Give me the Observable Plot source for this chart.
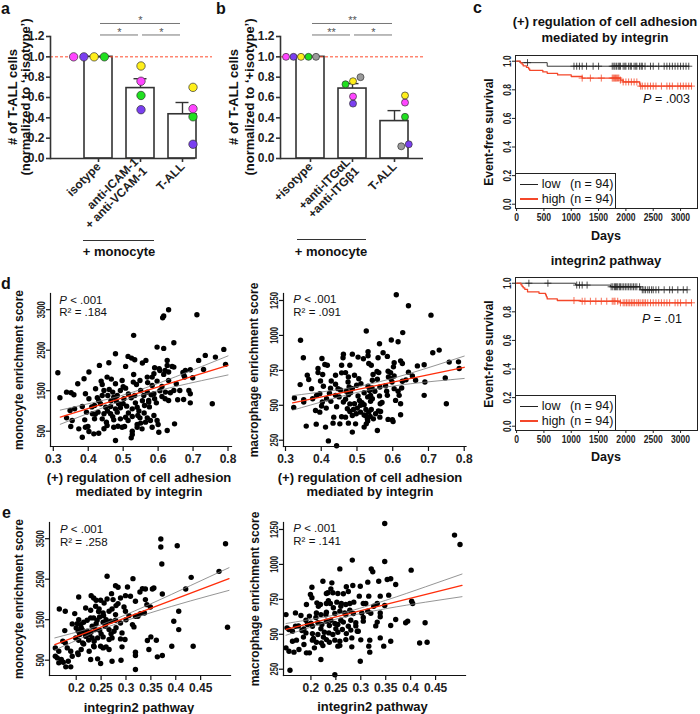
<!DOCTYPE html>
<html><head><meta charset="utf-8">
<script src="https://cdn.jsdelivr.net/npm/d3@7"></script>
<script src="https://cdn.jsdelivr.net/npm/@observablehq/plot@0.6"></script>
<style>
html,body{margin:0;padding:0;background:#fff;}
#fig{position:relative;width:700px;height:714px;overflow:hidden;font-family:"Liberation Sans",Arial,Helvetica,sans-serif;color:#111;}
.t{position:absolute;white-space:pre;line-height:1;}
.box{position:absolute;background:#fff;border:1px solid #222;box-sizing:border-box;}
</style></head><body><div id="fig"></div>
<script>
// ---------------- DATA ----------------
const donorColors = ["#ff45ff", "#7a3ff0", "#ffef1a", "#1fe01f", "#9a9a9a"];
const yTicksBar = [0, 0.2, 0.4, 0.6, 0.8, 1.0, 1.2];

const aCats = ["isotype", "anti-ICAM-1\n+ anti-VCAM-1", "T-ALL"];
const aIsotype = [1.0, 1.0, 1.0, 1.0];
const aAnti = [0.76, 0.48, 0.91, 0.62];
const aTall = [0.49, 0.14, 0.70, 0.41];
const aSig = [{from: 0, to: 2, level: 2, label: "*"}, {from: 0, to: 1, level: 1, label: "*"}, {from: 1, to: 2, level: 1, label: "*"}];

const bCats = ["+isotype", "+anti-ITGαL\n+anti-ITGβ1", "T-ALL"];
const bIsotype = [1.0, 1.0, 1.0, 1.0, 1.0];
const bAnti = [0.61, 0.54, 0.76, 0.73, 0.80];
const bTall = [0.55, 0.14, 0.62, 0.41, 0.12];
const bSig = [{from: 0, to: 2, level: 2, label: "**"}, {from: 0, to: 1, level: 1, label: "**"}, {from: 1, to: 2, level: 1, label: "*"}];

// Kaplan-Meier steps [days, survival]
const kmXTicks = [0, 500, 1000, 1500, 2000, 2500, 3000];
const kmYTicks = [0, 0.2, 0.4, 0.6, 0.8, 1.0];
const km1Low = [[0,1],[60,0.99],[560,0.965],[3150,0.965]];
const km1High = [[0,1],[70,0.989],[100,0.979],[120,0.968],[180,0.957],[220,0.946],[240,0.936],[480,0.925],[560,0.915],[750,0.904],[1000,0.893],[1200,0.882],[1900,0.868],[1950,0.855],[2250,0.84],[2260,0.826],[3200,0.826]];
const km1LowCens = [200,1050,1100,1150,1200,1280,1400,1500,1750,1780,1800,1830,1860,1880,1900,1950,1980,2000,2050,2080,2100,2150,2180,2200,2250,2280,2300,2350,2450,2500,2600,2700,2750,2800,2850,2900,2950,3000,3050,3100,3150];
const km1HighCens = [1200,1350,1550,1750,1770,1790,1810,1830,1850,1870,1900,1950,2000,2050,2100,2150,2200,2270,2300,2350,2400,2450,2500,2550,2650,2750,2800,2850,2950,3000,3050,3100,3150,3200];
const km2Low = [[0,1],[1080,0.987],[1720,0.975],[2270,0.954],[3120,0.954]];
const km2High = [[0,1],[80,0.989],[100,0.978],[120,0.968],[150,0.957],[200,0.94],[410,0.929],[530,0.918],[545,0.905],[560,0.89],[745,0.879],[1170,0.874],[1900,0.863],[3200,0.863]];
const km2LowCens = [225,573,1100,1150,1200,1290,1730,1760,1790,1810,1830,1850,1880,1900,1930,1960,1990,2020,2050,2080,2110,2140,2170,2200,2250,2300,2330,2360,2400,2430,2470,2500,2550,2600,2700,2800,2850,2950,3050,3120];
const km2HighCens = [1050,1200,1250,1350,1450,1550,1650,1750,1780,1800,1850,1900,1950,1980,2010,2040,2070,2100,2130,2160,2200,2230,2260,2300,2330,2360,2400,2450,2500,2550,2600,2650,2700,2750,2800,2900,2950,3000,3100,3200];

// scatter ticks
const dXTicks = [0.3, 0.4, 0.5, 0.6, 0.7, 0.8];
const eXTicks = [0.2, 0.25, 0.3, 0.35, 0.4, 0.45];
const monoTicks = [500, 1500, 2500, 3500];
const macroTicks = [250, 500, 750, 1000, 1250];

// d left: adhesion score vs monocyte
const dLeftPts = [[0.319,1324],[0.313,1943],[0.338,1464],[0.351,1448],[0.348,1011],[0.361,1052],[0.338,830],[0.354,764],[0.350,615],[0.373,558],[0.359,1399],[0.370,1671],[0.388,1794],[0.383,1110],[0.392,1423],[0.390,780],[0.392,599],[0.383,352],[0.395,970],[0.399,615],[0.402,1960],[0.402,1300],[0.402,492],[0.412,929],[0.418,1135],[0.418,805],[0.416,434],[0.421,1547],[0.426,1324],[0.428,970],[0.430,451],[0.432,2124],[0.435,1176],[0.437,1737],[0.440,1654],[0.440,805],[0.445,1506],[0.445,929],[0.450,1093],[0.452,723],[0.454,1836],[0.454,640],[0.456,1382],[0.459,2190],[0.460,1531],[0.464,1110],[0.464,929],[0.466,1786],[0.470,1465],[0.473,1341],[0.473,780],[0.473,599],[0.478,2413],[0.478,1671],[0.478,1052],[0.478,270],[0.483,1382],[0.483,970],[0.485,623],[0.492,1506],[0.492,1077],[0.492,805],[0.497,1753],[0.497,599],[0.502,1300],[0.504,615],[0.507,2100],[0.507,1563],[0.507,846],[0.510,1118],[0.514,2347],[0.514,764],[0.523,1324],[0.523,335],[0.524,2305],[0.526,1052],[0.526,863],[0.526,500],[0.526,418],[0.529,1712],[0.530,2866],[0.533,2264],[0.533,1382],[0.538,1654],[0.540,1093],[0.540,665],[0.540,599],[0.542,887],[0.548,1753],[0.548,830],[0.550,1506],[0.554,558],[0.555,2182],[0.559,1382],[0.561,1135],[0.564,723],[0.565,2248],[0.569,1836],[0.569,1465],[0.569,830],[0.573,1258],[0.573,1217],[0.578,764],[0.583,1836],[0.583,1629],[0.583,599],[0.588,1918],[0.588,1423],[0.588,887],[0.590,2066],[0.590,1300],[0.597,2577],[0.597,1737],[0.597,764],[0.600,665],[0.602,475],[0.603,2042],[0.611,1605],[0.611,1357],[0.613,3303],[0.616,3344],[0.616,2544],[0.616,1902],[0.621,1465],[0.626,2248],[0.626,2124],[0.626,516],[0.630,3500],[0.630,1960],[0.630,1753],[0.630,1258],[0.645,2685],[0.645,2083],[0.645,1506],[0.647,681],[0.652,1671],[0.656,1275],[0.662,1506],[0.671,1951],[0.673,1283],[0.674,1877],[0.676,1836],[0.678,2000],[0.688,1506],[0.692,2017],[0.692,1423],[0.692,1200],[0.699,1819],[0.711,3377],[0.716,2248],[0.730,2025],[0.735,2371],[0.755,1176],[0.764,2330],[0.788,2520],[0.793,2150],[0.465,1250],[0.487,1180],[0.515,1420],[0.535,1200],[0.545,1000],[0.555,1250],[0.560,950],[0.575,1100],[0.580,1400],[0.595,1200],[0.605,1500],[0.620,1300],[0.635,1450],[0.550,700],[0.515,950],[0.470,860],[0.445,560],[0.410,1100],[0.430,1250],[0.500,1180],[0.605,2000],[0.620,2000],[0.640,2100],[0.570,1700],[0.530,1900],[0.500,1600],[0.480,1250],[0.455,1000],[0.420,920],[0.440,1380]];
const dLeftFit = [[0.32,846],[0.80,2124]];
const dLeftUpper = [[0.32,1021],[0.42,1217],[0.52,1444],[0.65,1844],[0.80,2359]];
const dLeftLower = [[0.32,671],[0.42,1007],[0.52,1312],[0.65,1604],[0.80,1889]];

// d right: adhesion score vs macrophage
const dRightPts = [[0.610,1291],[0.644,1212],[0.707,1145],[0.526,1032],[0.342,965],[0.596,967],[0.615,955],[0.628,1020],[0.563,940],[0.730,895],[0.712,876],[0.350,840],[0.402,835],[0.462,866],[0.487,866],[0.461,840],[0.503,845],[0.531,883],[0.531,854],[0.518,833],[0.559,840],[0.573,876],[0.585,850],[0.410,792],[0.417,787],[0.391,763],[0.457,787],[0.480,787],[0.540,787],[0.533,799],[0.604,804],[0.627,799],[0.622,818],[0.669,782],[0.688,790],[0.784,811],[0.758,809],[0.391,734],[0.404,720],[0.361,715],[0.440,715],[0.457,732],[0.468,734],[0.476,703],[0.493,715],[0.556,742],[0.561,734],[0.587,744],[0.594,734],[0.602,775],[0.644,737],[0.786,763],[0.365,684],[0.398,674],[0.428,674],[0.475,667],[0.511,655],[0.543,679],[0.557,686],[0.588,703],[0.598,667],[0.604,710],[0.627,672],[0.637,682],[0.655,710],[0.664,679],[0.690,667],[0.747,696],[0.341,648],[0.373,619],[0.406,636],[0.426,622],[0.447,619],[0.454,610],[0.478,631],[0.487,619],[0.499,643],[0.531,636],[0.535,605],[0.542,624],[0.564,631],[0.583,600],[0.604,619],[0.615,600],[0.625,624],[0.387,571],[0.396,583],[0.423,586],[0.440,571],[0.476,576],[0.482,590],[0.503,567],[0.520,590],[0.538,571],[0.563,567],[0.585,571],[0.618,571],[0.688,571],[0.325,552],[0.351,540],[0.351,523],[0.376,547],[0.403,523],[0.415,547],[0.427,528],[0.462,523],[0.468,543],[0.493,511],[0.507,535],[0.514,519],[0.520,504],[0.538,528],[0.543,547],[0.565,511],[0.608,535],[0.622,511],[0.323,485],[0.401,495],[0.414,480],[0.384,463],[0.443,490],[0.473,475],[0.480,456],[0.501,480],[0.510,451],[0.525,470],[0.533,451],[0.540,470],[0.552,439],[0.566,456],[0.750,511],[0.396,451],[0.457,418],[0.435,415],[0.468,415],[0.487,427],[0.498,439],[0.524,427],[0.529,403],[0.537,420],[0.546,403],[0.564,415],[0.587,399],[0.622,432],[0.599,396],[0.386,365],[0.412,344],[0.433,372],[0.452,367],[0.476,372],[0.487,308],[0.496,367],[0.526,367],[0.530,387],[0.557,320],[0.601,384],[0.358,351],[0.420,245],[0.443,210],[0.520,344],[0.450,560],[0.470,600],[0.490,470],[0.510,500],[0.530,560],[0.550,600],[0.570,520],[0.505,690],[0.545,720],[0.560,460],[0.580,640],[0.440,650],[0.520,430],[0.480,510],[0.595,690]];
const dRightFit = [[0.32,517],[0.80,772]];
const dRightUpper = [[0.32,569],[0.42,602],[0.52,643],[0.65,730],[0.80,852]];
const dRightLower = [[0.32,465],[0.42,538],[0.52,603],[0.65,654],[0.80,692]];

// e left: integrin2 vs monocyte
const eLeftPts = [[0.370,3491],[0.370,3294],[0.403,3327],[0.500,3376],[0.372,2875],[0.262,2571],[0.431,2546],[0.487,2694],[0.314,2513],[0.279,2341],[0.284,2300],[0.303,2308],[0.328,2185],[0.333,2267],[0.339,2258],[0.353,2258],[0.356,2283],[0.373,2135],[0.299,2094],[0.271,2143],[0.289,2037],[0.205,2061],[0.230,2094],[0.235,2037],[0.240,1979],[0.249,1979],[0.256,1913],[0.262,2012],[0.274,1996],[0.280,1848],[0.284,1897],[0.296,1815],[0.309,2078],[0.319,1955],[0.339,1996],[0.342,1872],[0.349,1815],[0.420,2258],[0.166,1765],[0.178,1708],[0.197,1650],[0.219,1790],[0.229,1733],[0.239,1831],[0.246,1765],[0.254,1667],[0.266,1708],[0.272,1765],[0.279,1626],[0.299,1708],[0.306,1601],[0.319,1585],[0.329,1650],[0.337,1667],[0.406,1708],[0.192,1396],[0.202,1404],[0.209,1379],[0.215,1437],[0.222,1486],[0.229,1544],[0.235,1544],[0.242,1486],[0.247,1568],[0.254,1437],[0.260,1404],[0.269,1461],[0.279,1486],[0.289,1420],[0.313,1379],[0.316,1322],[0.324,1585],[0.396,1461],[0.177,1231],[0.200,1297],[0.204,1215],[0.207,1133],[0.212,1256],[0.215,1174],[0.222,1215],[0.227,1133],[0.232,1338],[0.239,1256],[0.247,1240],[0.258,1338],[0.266,1256],[0.276,1215],[0.292,1174],[0.406,1256],[0.504,1313],[0.173,968],[0.178,927],[0.199,1051],[0.205,993],[0.213,927],[0.219,1092],[0.232,1051],[0.236,968],[0.243,1051],[0.254,1075],[0.266,1010],[0.272,1051],[0.289,1026],[0.298,1010],[0.343,985],[0.350,1075],[0.361,993],[0.392,845],[0.435,845],[0.158,804],[0.165,722],[0.182,804],[0.189,722],[0.203,681],[0.210,763],[0.226,722],[0.236,829],[0.249,845],[0.254,804],[0.260,829],[0.266,763],[0.292,829],[0.319,697],[0.346,763],[0.373,615],[0.363,582],[0.158,599],[0.170,516],[0.174,451],[0.184,475],[0.192,599],[0.204,640],[0.229,516],[0.243,533],[0.249,418],[0.272,475],[0.290,500],[0.319,615],[0.165,434],[0.179,336],[0.189,336],[0.319,270],[0.162,557],[0.210,1300],[0.220,1100],[0.230,1200],[0.240,1400],[0.250,1150],[0.255,1600],[0.260,1500],[0.245,1700],[0.215,900],[0.225,1000],[0.235,850],[0.280,1300],[0.270,1150],[0.300,1500],[0.205,1500]];
const eLeftFit = [[0.157,886],[0.507,2513]];
const eLeftUpper = [[0.157,1050],[0.22,1259],[0.27,1471],[0.35,1893],[0.43,2345],[0.507,2784]];
const eLeftLower = [[0.157,750],[0.22,1099],[0.27,1351],[0.35,1673],[0.43,1965],[0.507,2224]];

// e right: integrin2 vs macrophage
const eRightPts = [[0.348,1293],[0.488,1210],[0.499,1143],[0.283,1031],[0.348,1021],[0.401,959],[0.258,968],[0.321,968],[0.324,947],[0.224,880],[0.242,868],[0.202,837],[0.271,840],[0.284,849],[0.299,844],[0.314,873],[0.336,880],[0.353,892],[0.360,897],[0.370,856],[0.240,825],[0.199,785],[0.202,761],[0.231,792],[0.234,797],[0.244,797],[0.254,792],[0.265,790],[0.275,806],[0.297,773],[0.316,773],[0.339,773],[0.356,780],[0.191,713],[0.212,725],[0.219,713],[0.231,720],[0.239,720],[0.252,730],[0.261,720],[0.270,713],[0.278,720],[0.286,730],[0.305,720],[0.326,701],[0.333,720],[0.348,706],[0.402,737],[0.404,720],[0.150,641],[0.169,653],[0.180,634],[0.197,630],[0.211,653],[0.220,641],[0.231,658],[0.248,649],[0.258,665],[0.268,653],[0.278,672],[0.285,649],[0.302,653],[0.314,665],[0.339,653],[0.152,546],[0.156,534],[0.169,558],[0.186,539],[0.193,570],[0.203,558],[0.214,582],[0.222,570],[0.231,594],[0.237,563],[0.248,577],[0.254,570],[0.265,587],[0.275,558],[0.290,582],[0.305,594],[0.333,587],[0.339,625],[0.360,563],[0.370,606],[0.390,582],[0.394,594],[0.429,582],[0.163,522],[0.182,527],[0.190,510],[0.203,505],[0.214,498],[0.227,515],[0.236,510],[0.244,498],[0.254,515],[0.263,534],[0.271,505],[0.293,522],[0.163,450],[0.171,458],[0.203,458],[0.211,443],[0.221,438],[0.231,462],[0.237,443],[0.248,458],[0.258,450],[0.270,462],[0.282,474],[0.318,458],[0.339,474],[0.360,450],[0.150,403],[0.156,379],[0.166,372],[0.176,391],[0.186,427],[0.191,367],[0.197,367],[0.207,403],[0.224,419],[0.258,419],[0.282,410],[0.316,415],[0.318,372],[0.346,415],[0.418,438],[0.433,443],[0.220,319],[0.299,307],[0.158,243],[0.248,210],[0.295,522],[0.254,415],[0.210,620],[0.220,540],[0.230,640],[0.240,600],[0.250,540],[0.260,600],[0.270,640],[0.280,600],[0.215,700],[0.245,690],[0.200,580],[0.185,480],[0.225,480],[0.260,700],[0.290,560],[0.305,620],[0.320,650],[0.310,720],[0.330,560],[0.280,530],[0.235,740],[0.190,600],[0.175,560],[0.205,470],[0.300,460]];
const eRightFit = [[0.15,535],[0.503,850]];
const eRightUpper = [[0.15,577],[0.22,619],[0.27,658],[0.35,743],[0.43,840],[0.503,931]];
const eRightLower = [[0.15,493],[0.22,575],[0.27,626],[0.35,683],[0.43,730],[0.503,769]];

// ---------------- RENDER ----------------
const FONT = '"Liberation Sans", Arial, Helvetica, sans-serif';
const fig = document.getElementById("fig");
const RED = "#ff2d0a", KMRED = "#f4472a", DASHRED = "#ff4b2b", INK = "#222";

function place(el, left, top) {
  el.style.position = "absolute"; el.style.left = left + "px"; el.style.top = top + "px";
  fig.appendChild(el); return el;
}
function T(html, x, y, o = {}) {
  const d = document.createElement("div");
  d.className = "t"; d.innerHTML = html;
  const ax = o.anchor === "start" ? "0" : o.anchor === "end" ? "-100%" : "-50%";
  d.style.left = x + "px"; d.style.top = y + "px";
  d.style.fontSize = (o.size ?? 12) + "px";
  d.style.fontWeight = o.weight ?? "bold";
  d.style.transform = `translate(${ax},-50%)` + (o.rotate ? ` rotate(${o.rotate}deg)` : "");
  fig.appendChild(d); return d;
}
function hline(x1, x2, y, color = "#333", w = 1) {
  const d = document.createElement("div");
  d.style.cssText = `position:absolute;left:${x1}px;top:${y}px;width:${x2 - x1}px;height:${w}px;background:${color};`;
  fig.appendChild(d);
}
function squeeze(svg, which, sx) {
  svg.querySelectorAll(`g[aria-label="${which}-axis tick label"] text`).forEach(t => {
    let tr = t.getAttribute("transform");
    if (!tr) {
      const x = +t.getAttribute("x") || 0, y = +t.getAttribute("y") || 0;
      tr = `translate(${x},${y})`; t.removeAttribute("x"); t.removeAttribute("y");
    }
    t.setAttribute("transform", tr + ` scale(${sx},1)`);
  });
}
const baseStyle = {fontFamily: FONT, fontWeight: "bold", overflow: "visible", background: "transparent", color: INK};

// ---- bar panels ----
function barPanel({cats, groups, sig, left, width, frameRight, xRange, axisInset, r, spacing}) {
  const H = 240, MT = 36, MB = 82;
  const pxPerUnit = (H - MT - MB) / 1.2;
  const summary = cats.map((c, i) => {
    const v = groups[i], m = d3.mean(v);
    return {cat: c, mean: m, top: m + d3.deviation(v) / Math.sqrt(v.length)};
  });
  // simple beeswarm: dots whose heights nearly coincide are laid side by side
  const pts = [];
  cats.forEach((c, i) => {
    const items = groups[i].map((v, j) => ({cat: c, v, j, color: donorColors[j]})).sort((a, b) => a.v - b.v);
    const clusters = [];
    let cur = [];
    for (const it of items) {
      if (cur.length && (it.v - cur[cur.length - 1].v) * pxPerUnit > 4.5) { clusters.push(cur); cur = []; }
      cur.push(it);
    }
    if (cur.length) clusters.push(cur);
    for (const cl of clusters) {
      cl.sort((a, b) => (a.v - b.v) || (a.j - b.j));
      cl.forEach((it, k) => { it.off = (k - (cl.length - 1) / 2) * spacing; pts.push(it); });
    }
  });
  const common = {width, height: H, marginTop: MT, marginBottom: MB, marginLeft: 50, marginRight: width - frameRight, style: baseStyle};
  const bracketY = d => d.level === 2 ? 1.328 : 1.215;
  const wide = sig.filter(d => d.to - d.from === 2), narrow = sig.filter(d => d.to - d.from === 1);
  const svg1 = Plot.plot({
    ...common,
    x: {domain: cats, range: xRange, padding: 1 / 3},
    y: {domain: [0, 1.2]},
    marks: [
      Plot.barY(summary, {x: "cat", y: "mean", fill: "white", stroke: "#333", strokeWidth: 1.6}),
      Plot.ruleX(summary, {x: "cat", y1: "mean", y2: "top", stroke: "#333", strokeWidth: 1.4}),
      Plot.tickY(summary, {x: "cat", y: "top", stroke: "#333", strokeWidth: 1.4, insetLeft: 7.5, insetRight: 7.5}),
      Plot.ruleY([1], {stroke: DASHRED, strokeWidth: 1, strokeDasharray: "3,2"}),
      Plot.ruleY([0], {stroke: "#333", strokeWidth: 1.6, insetRight: axisInset}),
      Plot.frame({anchor: "left", stroke: "#333", strokeWidth: 1.6}),
      Plot.axisY({ticks: yTicksBar, tickFormat: d3.format(".1f"), tickSize: 4, tickPadding: 2, fontSize: 12, stroke: "#333", strokeWidth: 1.6, label: null}),
      Plot.axisX({tickRotate: -45, tickSize: 4, tickPadding: 2, fontSize: 12, stroke: "#333", strokeWidth: 1.6, label: null, lineHeight: 1.05}),
      Plot.ruleY(sig, {x1: d => cats[d.from], x2: d => cats[d.to], y: bracketY, stroke: "#777", strokeWidth: 1, insetLeft: 16, insetRight: 16}),
      Plot.text(wide, {x: d => cats[d.from + 1], y: bracketY, text: "label", lineAnchor: "bottom", dy: 1, fontSize: 11, fontWeight: "normal", fill: "#555"}),
      Plot.text(narrow, {x: d => cats[d.from], y: bracketY, text: "label", lineAnchor: "bottom", dy: 1, dx: 21, fontSize: 11, fontWeight: "normal", fill: "#555"})
    ]
  });
  place(svg1, left, 0);
  const svg2 = Plot.plot({
    ...common,
    fx: {domain: cats, range: xRange, padding: 1 / 3, axis: null},
    x: {domain: [-14, 14], axis: null},
    y: {domain: [0, 1.2], axis: null},
    marks: [
      Plot.dot(pts, {fx: "cat", x: "off", y: "v", r, fill: "color", stroke: "#333", strokeWidth: 0.7})
    ]
  });
  place(svg2, left, 0);
}
barPanel({cats: aCats, groups: [aIsotype, aAnti, aTall], sig: aSig, left: 0, width: 222, frameRight: 212, xRange: [70, 210], axisInset: 17, r: 4.2, spacing: 8.2});
barPanel({cats: bCats, groups: [bIsotype, bAnti, bTall], sig: bSig, left: 230, width: 200, frameRight: 193, xRange: [52, 192], axisInset: 0, r: 3.5, spacing: 6});

// ---- Kaplan-Meier panels ----
function survAt(steps, t) { let s = steps[0][1]; for (const [tt, ss] of steps) if (tt <= t) s = ss; return s; }
function kmPanel({low, high, lowC, highC, top}) {
  const cens = (steps, times) => times.map(t => ({t, s: survAt(steps, t)}));
  const svg = Plot.plot({
    width: 240, height: 200, marginTop: 10, marginBottom: 37, marginLeft: 55, marginRight: 3,
    style: baseStyle,
    x: {domain: [-20, 3310]}, y: {domain: [-0.03, 1.04]},
    marks: [
      Plot.line(low, {x: d => d[0], y: d => d[1], curve: "step-after", stroke: INK, strokeWidth: 0.9}),
      Plot.line(high, {x: d => d[0], y: d => d[1], curve: "step-after", stroke: KMRED, strokeWidth: 1.3}),
      Plot.dot(cens(low, lowC), {x: "t", y: "s", symbol: "plus", r: 2.4, stroke: INK, strokeWidth: 0.8}),
      Plot.dot(cens(high, highC), {x: "t", y: "s", symbol: "plus", r: 2.4, stroke: KMRED, strokeWidth: 0.8}),
      Plot.frame({stroke: INK, strokeWidth: 1}),
      Plot.axisX({ticks: kmXTicks, tickFormat: d => String(d), tickSize: 3, tickPadding: 2, fontSize: 11, stroke: INK, label: null}),
      Plot.axisY({ticks: kmYTicks, tickFormat: d3.format(".1f"), tickRotate: -90, tickSize: 3, tickPadding: 2, fontSize: 10.5, stroke: INK, label: null})
    ]
  });
  squeeze(svg, "x", 0.78);
  squeeze(svg, "y", 0.8);
  place(svg, 460, top);
}
kmPanel({low: km1Low, high: km1High, lowC: km1LowCens, highC: km1HighCens, top: 45});
kmPanel({low: km2Low, high: km2High, lowC: km2LowCens, highC: km2HighCens, top: 267});

// ---- scatter panels ----
function scatter({pts, fit, up, lo, xd, yd, xt, yt, left, top, ml, mr}) {
  const X = d => d[0], Y = d => d[1];
  const svg = Plot.plot({
    width: 240, height: 190, marginTop: 8, marginBottom: 190 - 161, marginLeft: ml, marginRight: mr,
    style: baseStyle,
    x: {domain: xd}, y: {domain: yd},
    marks: [
      Plot.dot(pts, {x: X, y: Y, r: 2.7, fill: "#000"}),
      Plot.line(up, {x: X, y: Y, curve: "natural", stroke: "#7a7a7a", strokeWidth: 0.8}),
      Plot.line(lo, {x: X, y: Y, curve: "natural", stroke: "#7a7a7a", strokeWidth: 0.8}),
      Plot.line(fit, {x: X, y: Y, stroke: RED, strokeWidth: 1.3}),
      Plot.frame({anchor: "left", stroke: "#111", strokeWidth: 1.2}),
      Plot.frame({anchor: "bottom", stroke: "#111", strokeWidth: 1.2}),
      Plot.axisX({ticks: xt, tickFormat: d => String(d), tickSize: 5, tickPadding: 3, fontSize: 12, stroke: "#111", strokeWidth: 1.2, label: null}),
      Plot.axisY({ticks: yt, tickFormat: d => String(d), tickRotate: -90, tickSize: 4, tickPadding: 2, fontSize: 11.5, stroke: "#111", strokeWidth: 1.2, label: null})
    ]
  });
  squeeze(svg, "y", 0.66);
  place(svg, left, top);
}
scatter({pts: dLeftPts, fit: dLeftFit, up: dLeftUpper, lo: dLeftLower, xd: [0.292, 0.81], yd: [122, 3900], xt: dXTicks, yt: monoTicks, left: 0, top: 285, ml: 50, mr: 9});
scatter({pts: dRightPts, fit: dRightFit, up: dRightUpper, lo: dRightLower, xd: [0.2944, 0.805], yd: [205, 1300], xt: dXTicks, yt: macroTicks, left: 233, top: 285, ml: 50, mr: 7.5});
scatter({pts: eLeftPts, fit: eLeftFit, up: eLeftUpper, lo: eLeftLower, xd: [0.1463, 0.51], yd: [122, 3900], xt: eXTicks, yt: monoTicks, left: 0, top: 514, ml: 49, mr: 10});
scatter({pts: eRightPts, fit: eRightFit, up: eRightUpper, lo: eRightLower, xd: [0.145, 0.51], yd: [205, 1300], xt: eXTicks, yt: macroTicks, left: 233, top: 514, ml: 50, mr: 8});

// ---- text, titles, legends ----
T("a", 1, 9.4, {anchor: "start", size: 16});
T("b", 216, 9.4, {anchor: "start", size: 16});
T("c", 473, 7.7, {anchor: "start", size: 16});
T("d", 1, 284.4, {anchor: "start", size: 16});
T("e", 2, 512.7, {anchor: "start", size: 16});

T("# of T-ALL cells", 12, 97, {size: 13, rotate: -90});
T("(normalized to ‘+isotype’)", 25, 97, {size: 13, rotate: -90});
T("# of T-ALL cells", 233, 97, {size: 13, rotate: -90});
T("(normalized to ‘+isotype’)", 249, 97, {size: 13, rotate: -90});
hline(83, 154, 240);
T("+ monocyte", 119, 251, {size: 13});
hline(297, 366, 239);
T("+ monocyte", 331, 251, {size: 13});

T("(+) regulation of cell adhesion", 605, 20.7, {size: 13});
T("mediated by integrin", 605, 36.7, {size: 13});
T("integrin2 pathway", 606, 259.5, {size: 13});
T("Days", 606, 236, {size: 12.5});
T("Days", 606, 456.7, {size: 12.5});
T("Event-free survival", 489, 131.5, {size: 12, rotate: -90});
T("Event-free survival", 489, 353.5, {size: 12, rotate: -90});
T("<i>P</i> = .003", 690, 98.5, {anchor: "end", size: 12.5, weight: "normal"});
T("<i>P</i> = .01", 682, 319, {anchor: "end", size: 12.5, weight: "normal"});

function kmLegend(top) {
  const b = document.createElement("div");
  b.className = "box";
  b.style.cssText += `left:515px;top:${top}px;width:101px;height:36px;`;
  fig.appendChild(b);
  const rows = [{y: top + 11, c: INK, w: 1, a: "low", n: "(n = 94)"}, {y: top + 25.5, c: KMRED, w: 2, a: "high", n: "(n = 94)"}];
  for (const r of rows) {
    hline(520, 538, r.y - r.w / 2, r.c, r.w);
    T(r.a, 541.7, r.y, {anchor: "start", size: 12.5, weight: "normal"});
    T(r.n, 570, r.y, {anchor: "start", size: 12.5, weight: "normal"});
  }
}
kmLegend(173);
kmLegend(395);

// scatter annotations and titles
const ann = [[59.3, 300.5, ".184"], [293.3, 300.3, ".091"], [60, 530, ".258"], [293.3, 529.3, ".141"]];
for (const [x, y, r2] of ann) {
  T(`<i>P</i> &lt; .001`, x, y, {anchor: "start", size: 11.5, weight: "normal"});
  T(`R² = ${r2}`, x, y + 12.5, {anchor: "start", size: 11.5, weight: "normal"});
}
T("(+) regulation of cell adhesion", 139, 476.7, {size: 13});
T("mediated by integrin", 139, 491, {size: 13});
T("(+) regulation of cell adhesion", 370, 476.7, {size: 13});
T("mediated by integrin", 370, 491, {size: 13});
T("integrin2 pathway", 139, 706.5, {size: 13});
T("integrin2 pathway", 372.5, 706, {size: 13});
T("monocyte enrichment score", 19, 369.5, {size: 12, rotate: -90});
T("macrophage enrichment score", 254, 369.5, {size: 12, rotate: -90});
T("monocyte enrichment score", 19, 598.5, {size: 12, rotate: -90});
T("macrophage enrichment score", 255, 598.5, {size: 12, rotate: -90});
</script></body></html>
